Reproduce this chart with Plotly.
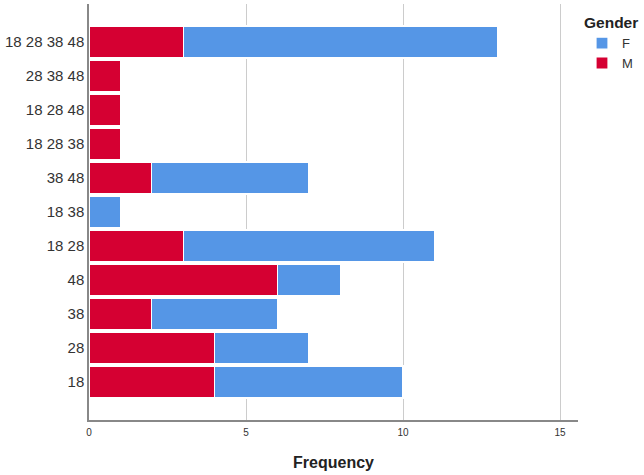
import plotly.graph_objects as go

categories = ["18", "28", "38", "48", "18 28", "18 38", "38 48",
              "18 28 38", "18 28 48", "28 38 48", "18 28 38 48"]
male = [4, 4, 2, 6, 3, 0, 2, 1, 1, 1, 3]
female = [6, 3, 4, 2, 8, 1, 5, 0, 0, 0, 10]
x_ticks = [0, 5, 10, 15]

RED = "#D50032"
BLUE = "#5596E6"

fig = go.Figure()
fig.add_trace(go.Bar(y=categories, x=male, name="M", orientation="h",
                     marker=dict(color=RED, line=dict(color="white", width=1.2))))
fig.add_trace(go.Bar(y=categories, x=female, name="F", orientation="h",
                     marker=dict(color=BLUE, line=dict(color="white", width=1.2))))

fig.update_layout(
    barmode="stack",
    bargap=0.06,
    width=644, height=475,
    margin=dict(l=89, r=66, t=4, b=55, autoexpand=False),
    paper_bgcolor="white", plot_bgcolor="white",
    font=dict(family="Liberation Sans, Arial, sans-serif", color="#333333"),
    showlegend=True,
    legend=dict(
        title=dict(text="<b>Gender</b>", font=dict(size=15.5, color="#222222")),
        traceorder="reversed",
        xref="container", yref="container",
        x=582 / 644, y=1 - 8 / 475, xanchor="left", yanchor="top",
        font=dict(size=13, color="#333333"),
        itemwidth=30,
        tracegroupgap=0,
    ),
    xaxis=dict(
        range=[0, 15.57],
        tickvals=x_ticks,
        ticktext=[str(v) for v in x_ticks],
        tickfont=dict(size=10, color="#333333"),
        showgrid=True, gridcolor="#CCCCCC", gridwidth=1,
        showline=True, linecolor="#888888", linewidth=1.5,
        zeroline=False,
        ticks="", ticklen=0, ticklabelstandoff=2,
        automargin=False,
        title=dict(text="<b>Frequency</b>", font=dict(size=16, color="#222222"), standoff=20),
    ),
    yaxis=dict(
        range=[-1.12, 11.12],
        tickfont=dict(size=15, color="#333333"),
        showgrid=False,
        showline=True, linecolor="#888888", linewidth=1.5,
        ticks="", ticklabelstandoff=0,
        automargin=False,
    ),
)

fig.write_html("out.html",
               config={"displayModeBar": False},
               post_script="document.body.style.margin='0';document.body.style.overflow='hidden';")
